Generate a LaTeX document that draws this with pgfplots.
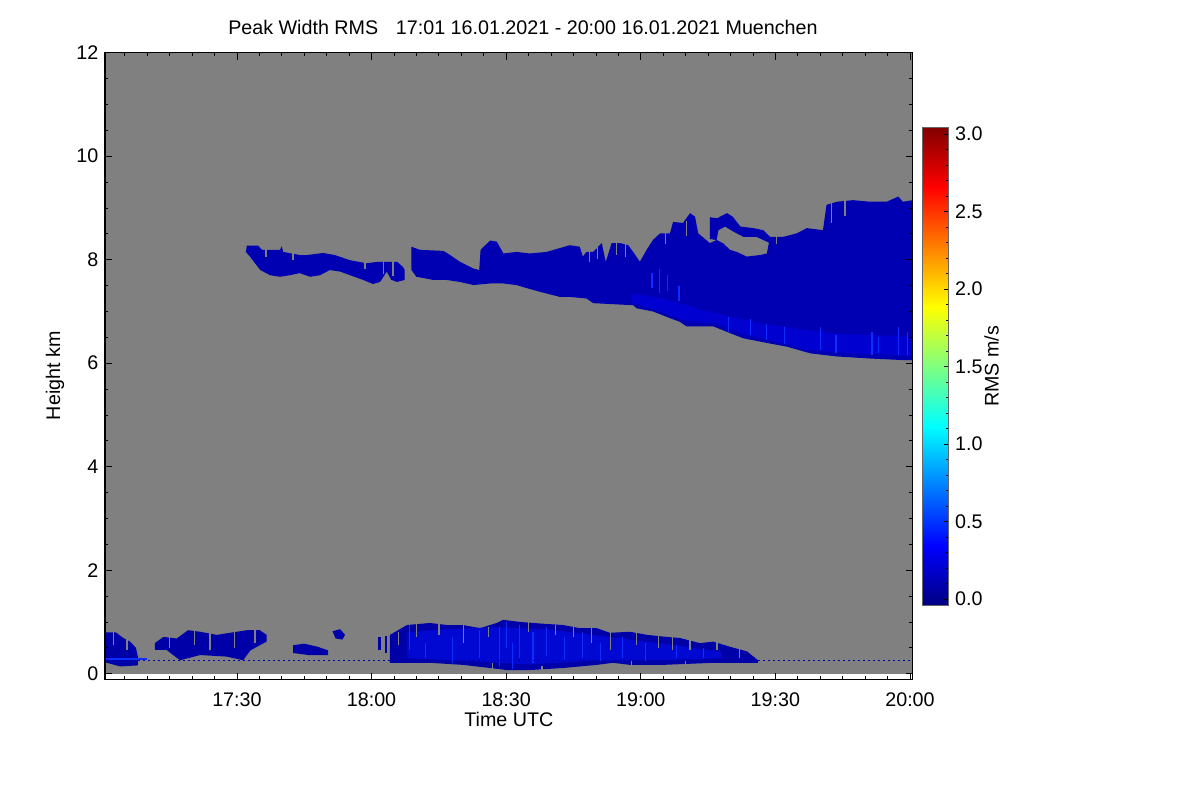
\documentclass[border=0pt]{standalone}
\usepackage{fontspec}
\setmainfont{Liberation Sans}
\usepackage{pgfplots}
\pgfplotsset{compat=1.18}
\definecolor{bg}{RGB}{128,128,128}
\definecolor{cdark}{RGB}{0,0,178}
\definecolor{cmid}{RGB}{0,0,208}
\definecolor{cbright}{RGB}{15,45,255}
\definecolor{clow}{RGB}{0,0,168}
\definecolor{clowmid}{RGB}{0,8,210}
\newcommand\F{\fontsize{19.7}{23.6}\selectfont}
\begin{document}
\F
\begin{tikzpicture}
\path[use as bounding box] (0,0) rectangle (1200pt,800pt);
\begin{axis}[
  at={(105pt,120pt)}, anchor=south west,
  scale only axis, width=807.7pt, height=627.3pt,
  xmin=0.6, xmax=180.6, ymin=-0.122, ymax=12,
  axis on top,
  axis line style={line width=1pt},
  unbounded coords=jump,
  xtick={30,60,90,120,150,180},
  xticklabels={17:30,18:00,18:30,19:00,19:30,20:00},
  minor xtick={5,10,...,180},
  ytick={0,2,...,12},
  minor ytick={0.5,1,...,11.5},
  tick align=inside,
  major tick length=7pt, minor tick length=3.5pt,
  tick style={line width=0.8pt, black},
  /pgf/number format/assume math mode=true,
  tick label style={font=\F},
  xticklabel style={yshift=-6pt},
  title={Peak Width RMS\hspace{0.9em}17:01 16.01.2021 - 20:00 16.01.2021 Muenchen},
  title style={at={(axis description cs:0.5175,1.0314)}, anchor=center, font=\F},
  xlabel={Time UTC},
  xlabel style={at={(axis description cs:0.5,-0.0622)}, anchor=center, font=\F},
  ylabel={Height km},
  ylabel style={at={(axis description cs:-0.062,0.485)}, anchor=center, font=\F},
]
% gray data background (no-echo region)
\addplot[fill=bg, draw=none] coordinates {(0.6,0) (180.6,0) (180.6,12) (0.6,12)} -- cycle;

% upper cloud, first segment
\addplot[fill=cdark, draw=none] coordinates {
(32.0,8.15) (32.2,8.27) (34.7,8.27) (35.6,8.19) (39.6,8.19) (40.0,8.26) (40.3,8.15)
(44.0,8.09) (45.6,8.09) (49.2,8.13) (51.8,8.09) (55.2,7.99) (59.0,7.93) (61.4,7.96)
(65.7,7.96) (67.0,7.86) (67.4,7.80)
(67.4,7.61) (65.7,7.57) (64.4,7.61) (63.4,7.77) (61.9,7.57) (60.3,7.53) (58.1,7.61)
(55.2,7.70) (53.0,7.77) (50.7,7.80) (48.5,7.70) (46.3,7.67) (44.0,7.74) (41.8,7.70)
(39.6,7.67) (37.4,7.70) (35.2,7.80) (32.9,8.06)} -- cycle;

% upper cloud, main body
\addplot[fill=cdark, draw=none] coordinates {
(68.9,8.25) (70.8,8.19) (76.0,8.17) (77.5,8.09) (79.7,7.96) (82.7,7.83) (84.0,7.80)
(84.3,8.19) (86.4,8.37) (87.9,8.35) (89.4,8.12) (92.3,8.15) (95.3,8.12) (99.0,8.15)
(104.2,8.28) (106.4,8.25) (107.1,8.06) (107.9,8.15) (109.4,8.15) (111.3,8.32) (112.2,7.96)
(113.5,8.32) (115.4,8.32) (117.2,8.28) (118.3,8.15) (119.8,7.96) (121.3,8.19) (122.7,8.38)
(124.3,8.51) (126.5,8.51) (127.2,8.73) (129.4,8.71) (131.0,8.90) (132.1,8.83) (132.8,8.51)
(135.4,8.32) (136.9,8.38) (138.3,8.32) (139.9,8.19) (141.4,8.15) (143.6,8.06) (146.6,8.09)
(148.1,8.12) (148.8,8.44) (151.7,8.44) (154.8,8.51) (157.0,8.61) (160.6,8.57) (161.4,9.06)
(163.7,9.12) (167.3,9.15) (171.1,9.12) (174.8,9.12) (177.4,9.22) (178.4,9.12) (180.6,9.15)
(180.6,6.06) (178.4,6.06) (171.1,6.09) (163.7,6.13) (157.8,6.19) (152.5,6.32) (148.8,6.38)
(142.9,6.48) (139.9,6.58) (136.2,6.71) (130.2,6.71) (128.7,6.80) (126.5,6.87) (122.7,7.00)
(119.1,7.06) (118.3,7.12) (109.4,7.16) (107.9,7.25) (104.2,7.28) (102.0,7.28) (97.5,7.38)
(94.6,7.45) (92.3,7.51) (89.4,7.54) (86.4,7.54) (82.7,7.51) (79.7,7.57) (76.6,7.61)
(73.7,7.61) (70.0,7.67) (68.9,7.80)} -- cycle;

% tendril above the main body
\addplot[fill=cdark, draw=none] coordinates {
(135.4,8.40) (135.4,8.82) (137.0,8.80) (139.2,8.90) (140.5,8.83) (142.2,8.64) (145.1,8.61)
(147.3,8.57) (148.8,8.44) (148.8,8.32) (145.8,8.44) (142.9,8.44) (140.7,8.54) (138.8,8.64)
(137.3,8.57) (136.9,8.38)} -- cycle;

% brighter lower band of the main body
\addplot[fill=cmid, draw=none] coordinates {
(118,7.35) (125,7.25) (135,7.0) (145,6.8) (155,6.66) (165,6.56) (180.6,6.52)
(180.6,6.14) (165,6.2) (157,6.26) (150,6.42) (143,6.56) (137,6.76) (130,6.82)
(126,6.95) (120,7.12) (118,7.18)} -- cycle;

% gaps at the top edges (columns of no echo)
\addplot[draw=bg, line width=1.4pt] coordinates {
(36.5,8.2) (36.5,8.05) (nan,nan)
(42.5,8.2) (42.5,8.0) (nan,nan)
(58.5,7.95) (58.5,7.82) (nan,nan)
(62.6,7.98) (62.6,7.72) (nan,nan)
(64.8,7.98) (64.8,7.68) (nan,nan)
(108.6,8.2) (108.6,7.95) (nan,nan)
(110.4,8.3) (110.4,8.02) (nan,nan)
(114.6,8.35) (114.6,8.1) (nan,nan)
(116.6,8.3) (116.6,8.05) (nan,nan)
(125.5,8.55) (125.5,8.3) (nan,nan)
(130.2,8.75) (130.2,8.45) (nan,nan)
(150.3,8.46) (150.3,8.3) (nan,nan)
(162.5,9.15) (162.5,8.7) (nan,nan)
(165.5,9.15) (165.5,8.85) (nan,nan)
};

% brighter streaks inside the main body
\addplot[draw=cbright, line width=1.3pt] coordinates {
(122.5,7.75) (122.5,7.45) (nan,nan)
(124.2,7.82) (124.2,7.35) (nan,nan)
(126.0,7.7) (126.0,7.4) (nan,nan)
(128.5,7.5) (128.5,7.2) (nan,nan)
(139.5,6.9) (139.5,6.6) (nan,nan)
(144.5,6.85) (144.5,6.55) (nan,nan)
(148.0,6.75) (148.0,6.45) (nan,nan)
(152.0,6.7) (152.0,6.38) (nan,nan)
(160.0,6.7) (160.0,6.25) (nan,nan)
(163.5,6.55) (163.5,6.2) (nan,nan)
(171.5,6.6) (171.5,6.15) (nan,nan)
(173.0,6.5) (173.0,6.2) (nan,nan)
(177.5,6.7) (177.5,6.15) (nan,nan)
(179.5,6.6) (179.5,6.15) (nan,nan)
};

% lower clutter
\addplot[fill=clow, draw=none] coordinates {
(0.6,0.80) (3.0,0.80) (4.5,0.70) (6.2,0.62) (7.5,0.50) (8.0,0.30) (7.9,0.16)
(4.0,0.14) (0.6,0.22)} -- cycle;
\addplot[fill=clow, draw=none] coordinates {
(11.7,0.59) (13.6,0.71) (16.6,0.68) (19.1,0.84) (21.8,0.81) (25.5,0.75) (27.7,0.78)
(32.2,0.84) (35.1,0.84) (36.6,0.75) (36.6,0.62) (33.0,0.45) (31.4,0.26) (27.7,0.33)
(21.8,0.36) (17.3,0.26) (14.3,0.46) (11.7,0.46)} -- cycle;
\addplot[fill=clow, draw=none] coordinates {
(42.5,0.55) (45,0.58) (48,0.52) (50.3,0.45) (50.3,0.36) (46,0.36) (42.5,0.40)} -- cycle;
\addplot[fill=clow, draw=none] coordinates {
(51.3,0.82) (53,0.86) (54.1,0.75) (53.5,0.66) (52,0.68)} -- cycle;
\addplot[fill=clow, draw=none] coordinates {
(61.4,0.70) (62.2,0.70) (62.2,0.45) (61.4,0.45)} -- cycle;
\addplot[fill=clow, draw=none] coordinates {
(63.0,0.72) (63.5,0.72) (63.5,0.40) (63.0,0.40)} -- cycle;
\addplot[fill=clow, draw=none] coordinates {
(64.1,0.75) (67.9,0.94) (73.0,0.98) (76.8,0.94) (80.4,0.94) (84.2,0.88) (87.9,0.98)
(89.3,1.04) (93.1,1.00) (97.5,0.97) (102.7,0.94) (106.4,0.88) (110.2,0.88) (113.1,0.79)
(117.6,0.81) (121.4,0.75) (125.8,0.71) (128.7,0.69) (133.2,0.59) (136.1,0.62) (139.9,0.52)
(143.7,0.43) (146.1,0.26) (146.1,0.21) (136.1,0.21) (124.9,0.17) (117.6,0.17) (113.8,0.21)
(110.2,0.17) (102.7,0.11) (95.3,0.07) (90.2,0.07) (86.4,0.11) (80.4,0.17) (73.0,0.21)
(64.1,0.21)} -- cycle;
\addplot[fill=clowmid, draw=none] coordinates {
(68,0.8) (75,0.85) (88,0.9) (100,0.85) (112,0.72) (125,0.58) (138,0.42)
(138,0.3) (125,0.26) (110,0.25) (95,0.18) (80,0.25) (68,0.3)} -- cycle;

% bright streaks in the lower clutter
\addplot[draw=cbright, line width=1.2pt] coordinates {
(68.5,0.95) (68.5,0.45) (nan,nan)
(72.0,0.6) (72.0,0.3) (nan,nan)
(78.0,0.7) (78.0,0.2) (nan,nan)
(84.0,0.85) (84.0,0.3) (nan,nan)
(88.5,0.9) (88.5,0.15) (nan,nan)
(90.0,1.0) (90.0,0.5) (nan,nan)
(91.5,0.6) (91.5,0.1) (nan,nan)
(93.0,0.95) (93.0,0.3) (nan,nan)
(96.0,0.8) (96.0,0.2) (nan,nan)
(99.0,0.9) (99.0,0.35) (nan,nan)
(103.0,0.7) (103.0,0.25) (nan,nan)
(107.0,0.8) (107.0,0.3) (nan,nan)
(111.0,0.6) (111.0,0.25) (nan,nan)
(116.0,0.7) (116.0,0.3) (nan,nan)
(121.0,0.6) (121.0,0.25) (nan,nan)
(128.0,0.55) (128.0,0.3) (nan,nan)
(134.0,0.5) (134.0,0.3) (nan,nan)
};
% gaps (no echo) in the lower clutter
\addplot[draw=bg, line width=1.3pt] coordinates {
(2.5,0.8) (2.5,0.55) (nan,nan)
(5.5,0.7) (5.5,0.45) (nan,nan)
(15.0,0.7) (15.0,0.5) (nan,nan)
(20.5,0.84) (20.5,0.55) (nan,nan)
(24.0,0.8) (24.0,0.45) (nan,nan)
(29.5,0.84) (29.5,0.5) (nan,nan)
(34.0,0.84) (34.0,0.6) (nan,nan)
(66.0,0.8) (66.0,0.55) (nan,nan)
(70.0,1.0) (70.0,0.7) (nan,nan)
(75.0,1.0) (75.0,0.75) (nan,nan)
(80.5,0.95) (80.5,0.6) (nan,nan)
(86.0,0.9) (86.0,0.7) (nan,nan)
(95.0,1.0) (95.0,0.8) (nan,nan)
(101.0,0.95) (101.0,0.75) (nan,nan)
(105.0,0.9) (105.0,0.7) (nan,nan)
(109.0,0.9) (109.0,0.6) (nan,nan)
(113.3,0.9) (113.3,0.45) (nan,nan)
(119.0,0.8) (119.0,0.55) (nan,nan)
(124.0,0.75) (124.0,0.5) (nan,nan)
(127.0,0.72) (127.0,0.45) (nan,nan)
(131.0,0.7) (131.0,0.45) (nan,nan)
(137.0,0.62) (137.0,0.45) (nan,nan)
(142.0,0.5) (142.0,0.3) (nan,nan)
(87.0,0.2) (87.0,0.05) (nan,nan)
(98.0,0.15) (98.0,0.05) (nan,nan)
(118.0,0.25) (118.0,0.15) (nan,nan)
(130.0,0.25) (130.0,0.15) (nan,nan)
};

% ground clutter line
\addplot[draw=clow, line width=1.5pt, dash pattern=on 2pt off 3pt] coordinates {(8,0.25) (180.6,0.25)};
\addplot[draw=cbright, line width=1.5pt] coordinates {(0.6,0.28) (10,0.28)};
\end{axis}

% colour scale
\begin{axis}[
  at={(922.7pt,194.3pt)}, anchor=south west,
  scale only axis, width=25.6pt, height=478.4pt,
  xmin=0, xmax=1, ymin=-0.043, ymax=3.043,
  axis on top,
  axis line style={draw=black!60, line width=0.6pt},
  xtick=\empty,
  ytick={0,0.5,...,3},
  minor ytick={0.1,0.2,...,2.95},
  ytick pos=right, yticklabel pos=right,
  tick align=inside,
  major tick length=4pt, minor tick length=2pt,
  tick style={black, line width=0.5pt},
  yticklabel style={/pgf/number format/.cd, fixed, fixed zerofill, precision=1, assume math mode=true},
  tick label style={font=\F},
  ylabel={RMS m/s},
  ylabel style={at={(axis description cs:2.695,0.5)}, anchor=center, font=\F},
  colormap/jet,
  point meta min=-0.043, point meta max=3.043,
]
\addplot[patch, shader=interp, point meta=y] coordinates {
(0,-0.043) (1,-0.043) (1,0.3428)  (0,-0.043) (1,0.3428) (0,0.3428)
(0,0.3428) (1,0.3428) (1,1.1143)  (0,0.3428) (1,1.1143) (0,1.1143)
(0,1.1143) (1,1.1143) (1,1.8858)  (0,1.1143) (1,1.8858) (0,1.8858)
(0,1.8858) (1,1.8858) (1,2.6573)  (0,1.8858) (1,2.6573) (0,2.6573)
(0,2.6573) (1,2.6573) (1,3.043)   (0,2.6573) (1,3.043) (0,3.043)
};
\end{axis}
\end{tikzpicture}
\end{document}
